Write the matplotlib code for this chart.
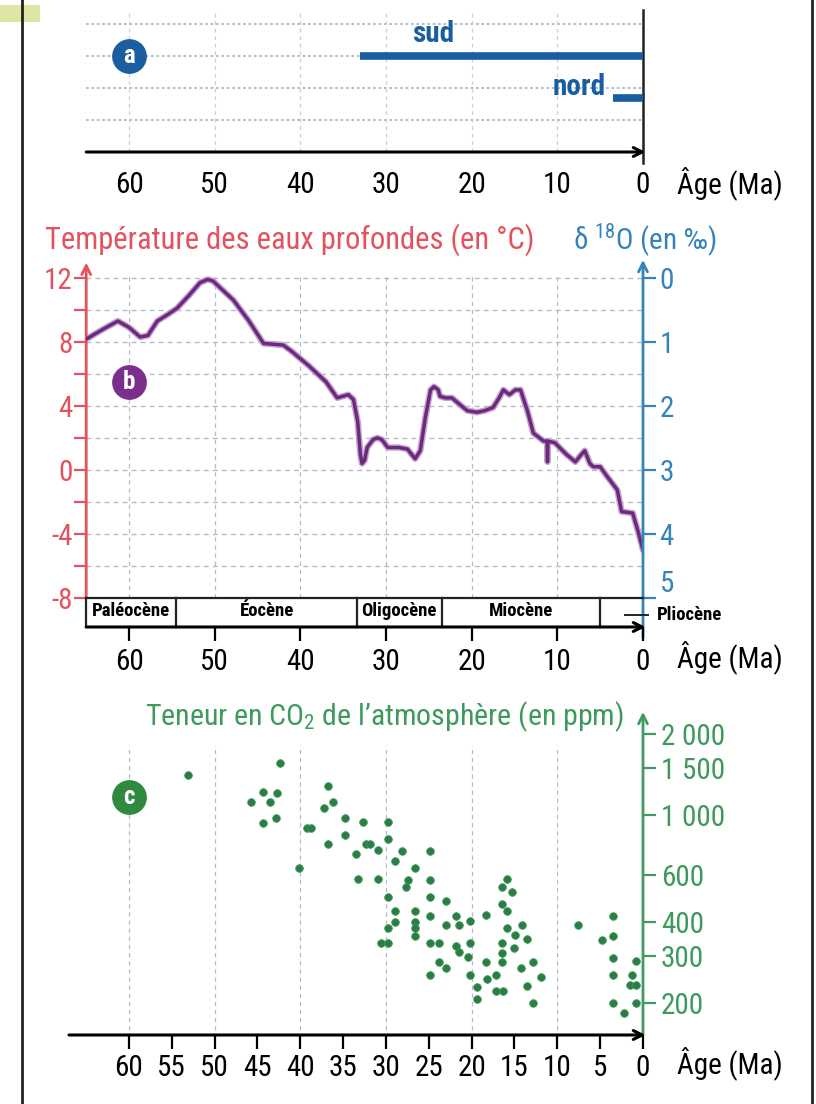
import matplotlib
matplotlib.use("Agg")
import matplotlib.pyplot as plt
from matplotlib import font_manager as fm
from matplotlib.patches import Rectangle
from matplotlib.lines import Line2D

# ---------------------------------------------------------------- data
ages_10 = [60, 50, 40, 30, 20, 10, 0]
ages_5 = [60, 55, 50, 45, 40, 35, 30, 25, 20, 15, 10, 5, 0]
grid_ages = [60, 50, 40, 30, 20, 10]

# (a) ice-sheet presence (start age, end age)
ice_labels = ["sud", "nord"]
ice_start = [33.0, 3.5]
ice_end = [0.0, 0.0]

# (b) deep-water temperature curve
temp_age = [64.9, 63.0, 61.3, 60.0, 58.7, 57.8, 56.7, 55.5, 54.4, 53.0, 51.7,
            50.8, 50.2, 49.0, 47.8, 46.0, 44.3, 42.0, 41.0, 39.0, 37.0, 35.7,
            34.4, 33.8, 33.3, 33.0, 32.8, 32.5, 32.2, 31.5, 31.0, 30.5, 29.8,
            28.5, 27.5, 26.6, 26.0, 25.4, 24.8, 24.4, 23.9, 23.7, 23.1, 22.3,
            21.2, 20.5, 19.4, 18.5, 17.5, 16.8, 16.3, 15.6, 14.9, 14.3, 13.5,
            12.8, 11.6, 11.2, 11.15, 11.1, 10.3, 9.0, 7.9, 7.3, 6.8, 6.2, 5.8,
            5.0, 4.2, 3.0, 2.5, 1.2, 0.6, 0.0]
temp_val = [8.2, 8.8, 9.3, 8.9, 8.3, 8.4, 9.3, 9.7, 10.1, 10.9, 11.7,
            11.9, 11.8, 11.2, 10.6, 9.3, 7.9, 7.8, 7.4, 6.5, 5.5, 4.5,
            4.7, 4.4, 3.0, 1.0, 0.4, 0.6, 1.4, 1.9, 2.0, 1.9, 1.4,
            1.4, 1.3, 0.7, 1.2, 3.3, 5.0, 5.2, 5.0, 4.6, 4.5, 4.5,
            4.0, 3.7, 3.6, 3.7, 3.9, 4.5, 5.0, 4.7, 5.0, 5.0, 3.7,
            2.3, 1.8, 1.8, 0.5, 1.8, 1.7, 1.0, 0.5, 0.9, 1.2, 0.4, 0.2,
            0.2, -0.4, -1.25, -2.6, -2.7, -3.8, -5.0]
temp_ticks = [12, 8, 4, 0, -4, -8]
temp_minor = [10, 6, 2, -2, -6]
d18o_ticks = [0, 1, 2, 3, 4, 5]

epoch_names = ["Paléocène", "Éocène", "Oligocène", "Miocène"]
epoch_bounds = [65.0, 54.5, 33.4, 23.5, 5.0, 0.0]
pliocene_label = "Pliocène"

# (c) atmospheric CO2
co2_age = [53.1, 42.4, 45.7, 44.4, 43.5, 42.7, 44.3, 42.8, 36.8, 36.2, 37.2,
           39.2, 38.8, 40.1, 36.8, 34.8, 34.8, 32.7, 33.5, 33.3, 32.3, 31.9,
           30.9, 30.9, 29.8, 29.8, 28.9, 28.1, 29.8, 28.9, 28.9, 29.8, 30.6,
           29.8, 27.4, 27.7, 26.6, 26.6, 26.6, 26.6, 26.6, 24.9, 24.9, 24.9,
           24.9, 23.0, 23.0, 24.9, 23.8, 23.8, 23.0, 24.9, 21.8, 21.5, 20.2,
           21.8, 21.5, 20.4, 20.2, 20.2, 19.4, 19.4, 18.3, 18.3, 18.2, 17.2,
           17.2, 16.3, 15.9, 16.5, 15.3, 16.5, 15.9, 15.9, 14.1, 14.9, 13.5,
           16.5, 15.1, 16.5, 16.5, 14.2, 12.8, 13.5, 11.9, 12.8, 7.6, 4.8,
           3.5, 3.5, 3.5, 3.5, 3.5, 2.2, 0.8, 1.3, 1.5, 0.8, 0.8]
co2_ppm = [1410, 1560, 1120, 1220, 1120, 1205, 935, 975, 1285, 1120, 1060,
           895, 895, 635, 780, 975, 845, 940, 715, 580, 780, 780,
           740, 580, 940, 815, 675, 735, 495, 440, 400, 380, 335,
           335, 575, 540, 635, 440, 400, 380, 355, 735, 575, 495,
           420, 480, 390, 335, 335, 285, 270, 255, 420, 390, 405,
           325, 310, 297, 335, 255, 230, 207, 425, 285, 245, 255,
           222, 222, 578, 540, 518, 467, 440, 380, 390, 358, 346,
           335, 321, 307, 285, 270, 285, 231, 250, 200, 390, 343,
           422, 355, 294, 254, 200, 184, 286, 254, 233, 233, 200]
co2_ticks = [200, 300, 400, 600, 1000, 1500, 2000]
co2_tick_labels = ["200", "300", "400", "600", "1 000", "1 500", "2 000"]

# ---------------------------------------------------------------- style
def pick_font():
    fl = fm.fontManager.ttflist
    names = {f.name for f in fl}
    for n in ("Roboto Condensed", "Liberation Sans Narrow",
              "Open Sans Condensed", "Noto Sans Condensed"):
        if n in names:
            return n, "normal"
    for n in ("Noto Sans", "DejaVu Sans", "Open Sans", "Roboto"):
        if any(f.name == n and str(f.stretch) in ("condensed", "semi-condensed")
               for f in fl):
            return n, "condensed"
    return "Roboto", "normal"

FONT, STRETCH = pick_font()
plt.rcParams["font.family"] = [FONT, "DejaVu Sans"]
plt.rcParams["font.stretch"] = STRETCH
plt.rcParams["mathtext.fontset"] = "custom"
plt.rcParams["mathtext.rm"] = FONT
plt.rcParams["mathtext.it"] = FONT
plt.rcParams["axes.unicode_minus"] = False

FS = 21
FS_TITLE = 22
FS_CO2 = 21.5
BLUE_A = "#1b5e9f"
RED = "#e4525e"
BLUE_D = "#3484b9"
PURPLE = "#6a2b7c"
PURPLE_C = "#7a2f8c"
GREEN_T = "#3d9a5d"
GREEN_AX = "#3f9b63"
GREEN_DOT = "#2e7c45"
GREEN_C = "#2f8a3f"
GRID = "#b3bccb"

W, H = 816, 1104
fig = plt.figure(figsize=(W / 100, H / 100), dpi=100)
fig.patch.set_facecolor("white")


def px_axes(x0, y0, x1, y1):
    return fig.add_axes([x0 / W, 1 - y1 / H, (x1 - x0) / W, (y1 - y0) / H])


def ftext(x, y, s, **kw):
    return fig.text(x / W, 1 - y / H, s, **kw)


def badge(ax, x, y, letter, color):
    ax.plot([x], [y], "o", ms=24, color=color, clip_on=False, zorder=6)
    ax.text(x, y, letter, color="white", fontsize=18, fontweight="bold",
            ha="center", va="center", zorder=7, clip_on=False)


def bare(ax):
    for s in ax.spines.values():
        s.set_visible(False)
    ax.patch.set_alpha(0)


ARROW = dict(arrowstyle="->", lw=2.2, color="black", mutation_scale=16,
             shrinkA=0, shrinkB=0)

# page frame
fig.add_artist(Rectangle((0, 1 - 22 / H), 40 / W, 17 / H,
                         transform=fig.transFigure, color="#dfe6a4", lw=0))
for xf in (22, 812):
    fig.add_artist(Line2D([xf / W, xf / W], [0, 1], color="#222222", lw=2))

# ---------------------------------------------------------------- panel a
axA = px_axes(86.2, 10, 643, 152)
bare(axA)
axA.set_xlim(65, 0)
axA.set_ylim(0, 4.45)
axA.set_yticks([])
for r in (1, 2, 3, 4):
    axA.axhline(r, color="#a9b8cc", ls=(0, (1.5, 1.5)), lw=1.3, zorder=1)
for a in grid_ages:
    axA.axvline(a, color="#c8cfda", ls=(0, (3, 3)), lw=0.9, zorder=1)
rows = [3.02, 1.68]
for lab, s, e, r in zip(ice_labels, ice_start, ice_end, rows):
    axA.hlines(r, s, e, color=BLUE_A, lw=5.5, zorder=4)
axA.text(24.5, 3.7, ice_labels[0], color=BLUE_A, fontsize=FS,
         fontweight="bold", ha="center", va="center")
axA.text(4.3, 2.05, ice_labels[1], color=BLUE_A, fontsize=FS,
         fontweight="bold", ha="right", va="center")
axA.annotate("", xy=(-0.3, 0), xytext=(65, 0), arrowprops=ARROW,
             annotation_clip=False)
axA.plot([0, 0], [-0.35, 4.45], color="#222222", lw=1.8, clip_on=False)
axA.set_xticks(ages_10)
axA.set_xticks([60], minor=True)
axA.tick_params(axis="x", which="major", length=0, pad=14, labelsize=FS)
axA.tick_params(axis="x", which="minor", length=9, width=1.6, direction="out")
badge(axA, 60, 3.02, "a", BLUE_A)
ftext(677, 183, "Âge (Ma)", fontsize=FS, ha="left", va="center")

# ---------------------------------------------------------------- panel b
axB = px_axes(86.2, 265, 643, 598)
bare(axB)
axB.set_xlim(65, 0)
axB.set_ylim(-8, 12.8)
axB.set_xticks([])
for t in [12, 10, 8, 6, 4, 2, 0, -2, -4, -6]:
    axB.axhline(t, color=GRID, ls=(0, (3.5, 3)), lw=1.0, zorder=1)
for a in grid_ages:
    axB.plot([a, a], [-8, 12.3], color=GRID, ls=(0, (3.5, 3)), lw=0.9, zorder=1)
axB.plot(temp_age, temp_val, color="#c9a2d2", lw=4.6, zorder=3,
         solid_capstyle="round", solid_joinstyle="round")
axB.plot(temp_age, temp_val, color=PURPLE, lw=2.5, zorder=4,
         solid_capstyle="round", solid_joinstyle="round")
axB.set_yticks(temp_ticks)
axB.set_yticks(temp_minor, minor=True)
axB.tick_params(axis="y", which="both", direction="out", length=9, width=1.6,
                color=RED, labelcolor=RED, labelsize=FS, pad=1)
axB.annotate("", xy=(65, 12.95), xytext=(65, -8),
             arrowprops=dict(ARROW, color=RED, lw=2.0), annotation_clip=False)
badge(axB, 60, 5.5, "b", PURPLE_C)

axBr = axB.twinx()
bare(axBr)
axBr.set_ylim(5, -0.2)
axBr.set_yticks(d18o_ticks)
axBr.tick_params(axis="y", direction="out", length=9, width=1.6,
                 color=BLUE_D, labelcolor=BLUE_D, labelsize=FS, pad=3)
axBr.get_yticklabels()[-1].set_verticalalignment("bottom")
axBr.annotate("", xy=(0, -0.28), xytext=(0, 5.62),
              arrowprops=dict(ARROW, color=BLUE_D, lw=2.0),
              annotation_clip=False)

ftext(45, 240, "Température des eaux profondes (en °C)", color=RED,
      fontsize=FS_TITLE, ha="left", va="center")
ftext(573, 240, "δ $^{18}$O (en ‰)", color=BLUE_D, fontsize=FS,
      ha="left", va="center")

# epoch strip
axE = px_axes(86.2, 598, 643, 627)
bare(axE)
axE.set_xlim(65, 0)
axE.set_ylim(0, 1)
axE.set_yticks([])
axE.plot([65, 0], [1, 1], color="#222222", lw=1.6, clip_on=False)
for b in epoch_bounds[:-1]:
    axE.plot([b, b], [0, 1], color="#222222", lw=1.6, clip_on=False)
for name, b0, b1 in zip(epoch_names, epoch_bounds[:-2], epoch_bounds[1:-1]):
    axE.text((b0 + b1) / 2, 0.55, name, fontsize=13.5, fontweight="bold",
             ha="center", va="center")
axE.plot([2.1, -0.6], [0.41, 0.41], color="#222222", lw=1.4, clip_on=False)
axE.text(-1.6, 0.41, pliocene_label, fontsize=13.5, fontweight="bold",
         ha="left", va="center")
axE.annotate("", xy=(-0.3, 0), xytext=(65, 0), arrowprops=ARROW,
             annotation_clip=False)
axE.set_xticks(ages_10)
axE.tick_params(axis="x", direction="out", length=10, width=1.6, pad=5,
                labelsize=FS)
ftext(677, 657, "Âge (Ma)", fontsize=FS, ha="left", va="center")

# ---------------------------------------------------------------- panel c
axC = px_axes(69, 715, 643, 1035)
bare(axC)
axC.set_xlim(67, 0)
axC.set_yscale("log")
axC.set_ylim(152, 2355)
for a in grid_ages:
    axC.plot([a, a], [158, 1820], color=GRID, ls=(0, (3.5, 3)), lw=0.9,
             zorder=1)
axC.scatter(co2_age, co2_ppm, s=30, color=GREEN_DOT, edgecolors="#3a9a58",
            linewidths=0.6, zorder=4)
axC.yaxis.tick_right()
axC.set_yticks(co2_ticks)
axC.set_yticklabels(co2_tick_labels)
axC.yaxis.set_minor_locator(matplotlib.ticker.NullLocator())
axC.tick_params(axis="y", direction="out", length=9, width=1.6,
                color=GREEN_AX, labelcolor=GREEN_T, labelsize=FS, pad=4)
axC.annotate("", xy=(0, 2420), xytext=(0, 152),
             arrowprops=dict(ARROW, color=GREEN_AX, lw=2.0),
             annotation_clip=False)
axC.annotate("", xy=(-0.3, 152), xytext=(67, 152), arrowprops=ARROW,
             annotation_clip=False)
axC.set_xticks(ages_5)
axC.tick_params(axis="x", direction="out", length=10, width=1.6, pad=4,
                labelsize=FS)
badge(axC, 60, 1167, "c", GREEN_C)
ftext(145, 717, "Teneur en CO$_2$ de l’atmosphère (en ppm)", color=GREEN_T,
      fontsize=FS_CO2, ha="left", va="center")
ftext(677, 1063, "Âge (Ma)", fontsize=FS, ha="left", va="center")

fig.savefig("out.png", dpi=100, facecolor="white")
